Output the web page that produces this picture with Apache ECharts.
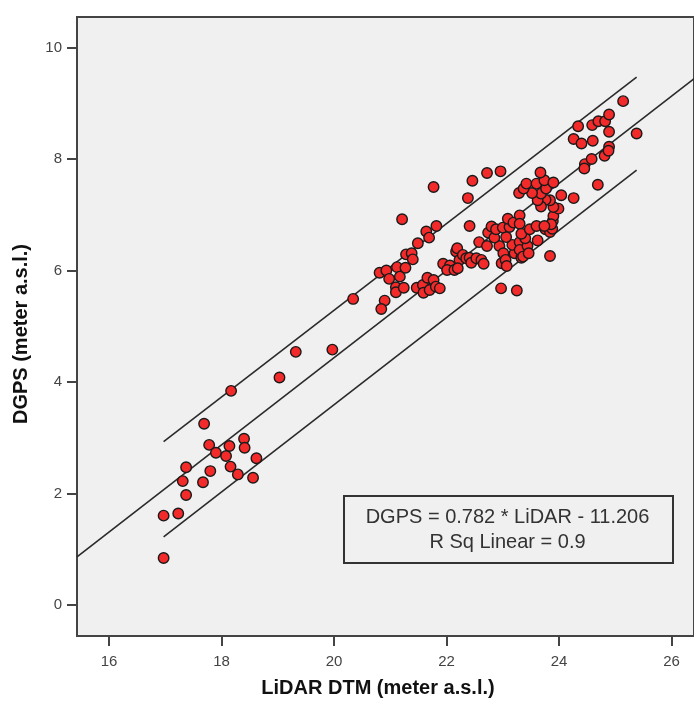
<!DOCTYPE html>
<html><head><meta charset="utf-8">
<script src="https://cdn.jsdelivr.net/npm/echarts@6/dist/echarts.min.js"></script>
<style>html,body{margin:0;padding:0;background:#fff}#c{width:694px;height:702px}</style>
</head><body><div id="c"></div>
<script>
const lidar = [16.97,16.97,17.23,17.37,17.31,17.37,17.67,17.80,17.69,17.78,17.90,18.14,18.08,18.16,18.29,18.40,18.41,18.62,18.56,18.17,
19.03,19.32,19.97,20.34,20.81,20.93,20.98,21.12,21.17,21.27,21.10,21.10,21.24,20.90,20.84,21.28,21.38,21.40,21.49,21.64,
21.69,21.82,21.77,21.21,21.47,21.58,21.59,21.66,21.77,21.70,21.81,21.88,21.94,22.06,22.01,22.14,22.17,22.19,22.23,22.29,
22.35,22.41,22.44,22.53,22.62,22.66,22.58,22.74,22.80,22.94,22.98,22.97,23.25,23.21,23.33,23.17,23.30,22.41,22.38,22.46,
22.72,22.96,22.20,22.85,22.72,23.06,22.88,23.00,23.12,23.09,23.19,23.30,23.30,23.01,23.05,23.07,23.30,23.44,23.36,23.46,
23.40,23.33,23.48,23.60,23.62,23.76,23.84,23.88,23.89,23.90,23.99,23.84,23.90,23.84,23.76,23.68,23.62,23.68,23.77,23.52,
23.29,23.37,23.42,23.60,23.74,23.67,23.90,24.04,24.26,24.69,24.46,24.58,24.81,24.89,24.88,24.26,24.40,24.60,24.34,24.59,
24.70,24.82,24.89,24.89,25.14,25.38,23.86,23.74,24.45];
const dgps = [0.84,1.60,1.64,1.97,2.22,2.47,2.20,2.40,3.25,2.87,2.73,2.85,2.67,2.48,2.34,2.98,2.82,2.63,2.28,3.84,
4.08,4.54,4.58,5.49,5.96,6.00,5.85,6.06,5.89,6.05,5.70,5.61,5.69,5.46,5.31,6.29,6.31,6.20,6.49,6.70,
6.59,6.80,7.50,6.92,5.69,5.74,5.60,5.87,5.83,5.65,5.71,5.68,6.12,6.09,6.01,6.01,6.34,6.40,6.19,6.28,
6.22,6.23,6.14,6.22,6.19,6.12,6.51,6.68,6.79,6.44,6.13,5.68,5.64,6.31,6.23,6.46,6.51,6.80,7.30,7.61,
7.75,7.78,6.04,6.59,6.44,6.60,6.74,6.77,6.78,6.93,6.86,6.99,6.84,6.31,6.19,6.08,6.37,6.44,6.25,6.31,
6.58,6.66,6.74,6.80,6.54,6.74,6.69,6.75,6.89,6.98,7.11,6.26,7.14,7.26,7.27,7.15,7.26,7.38,7.47,7.39,
7.39,7.47,7.56,7.56,7.62,7.76,7.58,7.35,7.30,7.54,7.91,8.00,8.06,8.22,8.15,8.36,8.28,8.33,8.59,8.61,
8.68,8.68,8.80,8.49,9.04,8.46,6.83,6.80,7.83];
const xTicks = [16, 18, 20, 22, 24, 26];
const yTicks = [0, 2, 4, 6, 8, 10];
const fitLine = [[15.43, 0.86], [26.5, 9.52]];
const upperLine = [[16.97, 2.93], [25.38, 9.47]];
const lowerLine = [[16.97, 1.22], [25.38, 7.80]];
const eqLines = ['DGPS = 0.782 * LiDAR - 11.206', 'R Sq Linear = 0.9'];
const xTitle = 'LiDAR DTM (meter a.s.l.)';
const yTitle = 'DGPS (meter a.s.l.)';

const points = lidar.map((x, i) => [x, dgps[i]]);
const chart = echarts.init(document.getElementById('c'), null, {renderer: 'canvas'});
const lineStyle = {color: '#2a2a2a', width: 1.6};
const titleFont = {fontFamily: 'Liberation Sans', fontWeight: 'bold', fontSize: 20, fill: '#111', align: 'center', verticalAlign: 'middle'};
chart.setOption({
  animation: false,
  backgroundColor: '#ffffff',
  grid: {left: 77, top: 17, right: -2, bottom: 66, show: true, backgroundColor: '#f0f0f0', borderColor: '#444', borderWidth: 2},
  xAxis: {
    type: 'value', min: 15.43, max: 26.4,
    axisLine: {show: true, onZero: false, lineStyle: {color: '#444', width: 2}},
    axisTick: {show: true, length: 10, customValues: xTicks, lineStyle: {color: '#444', width: 2}},
    axisLabel: {customValues: xTicks, margin: 18, fontFamily: 'Liberation Sans', fontSize: 15, color: '#444'},
    splitLine: {show: false}
  },
  yAxis: {
    type: 'value', min: -0.56, max: 10.55,
    axisLine: {show: true, onZero: false, lineStyle: {color: '#444', width: 2}},
    axisTick: {show: true, length: 10, customValues: yTicks, lineStyle: {color: '#444', width: 2}},
    axisLabel: {customValues: yTicks, margin: 15, fontFamily: 'Liberation Sans', fontSize: 15, color: '#444'},
    splitLine: {show: false}
  },
  series: [
    {type: 'line', data: fitLine, symbol: 'none', lineStyle: lineStyle, z: 2, silent: true},
    {type: 'line', data: upperLine, symbol: 'none', lineStyle: lineStyle, z: 2, silent: true},
    {type: 'line', data: lowerLine, symbol: 'none', lineStyle: lineStyle, z: 2, silent: true},
    {type: 'scatter', data: points, symbol: 'circle', symbolSize: 10.5, z: 3,
     itemStyle: {color: '#f22a2a', borderColor: '#1a1a1a', borderWidth: 1.4, opacity: 1}}
  ],
  graphic: [
    {type: 'rect', left: 343, top: 495, shape: {width: 329, height: 67}, z: 10,
     style: {fill: '#f0f0f0', stroke: '#333', lineWidth: 2}},
    {type: 'text', x: 507.5, y: 517, z: 11,
     style: {text: eqLines[0], fontFamily: 'Liberation Sans', fontSize: 20, fill: '#333', align: 'center', verticalAlign: 'middle'}},
    {type: 'text', x: 507.5, y: 542, z: 11,
     style: {text: eqLines[1], fontFamily: 'Liberation Sans', fontSize: 20, fill: '#333', align: 'center', verticalAlign: 'middle'}},
    {type: 'text', x: 378, y: 688, z: 11, style: Object.assign({text: xTitle}, titleFont)},
    {type: 'text', x: 21, y: 334, rotation: Math.PI / 2, z: 11, style: Object.assign({text: yTitle}, titleFont)}
  ]
});
</script></body></html>
